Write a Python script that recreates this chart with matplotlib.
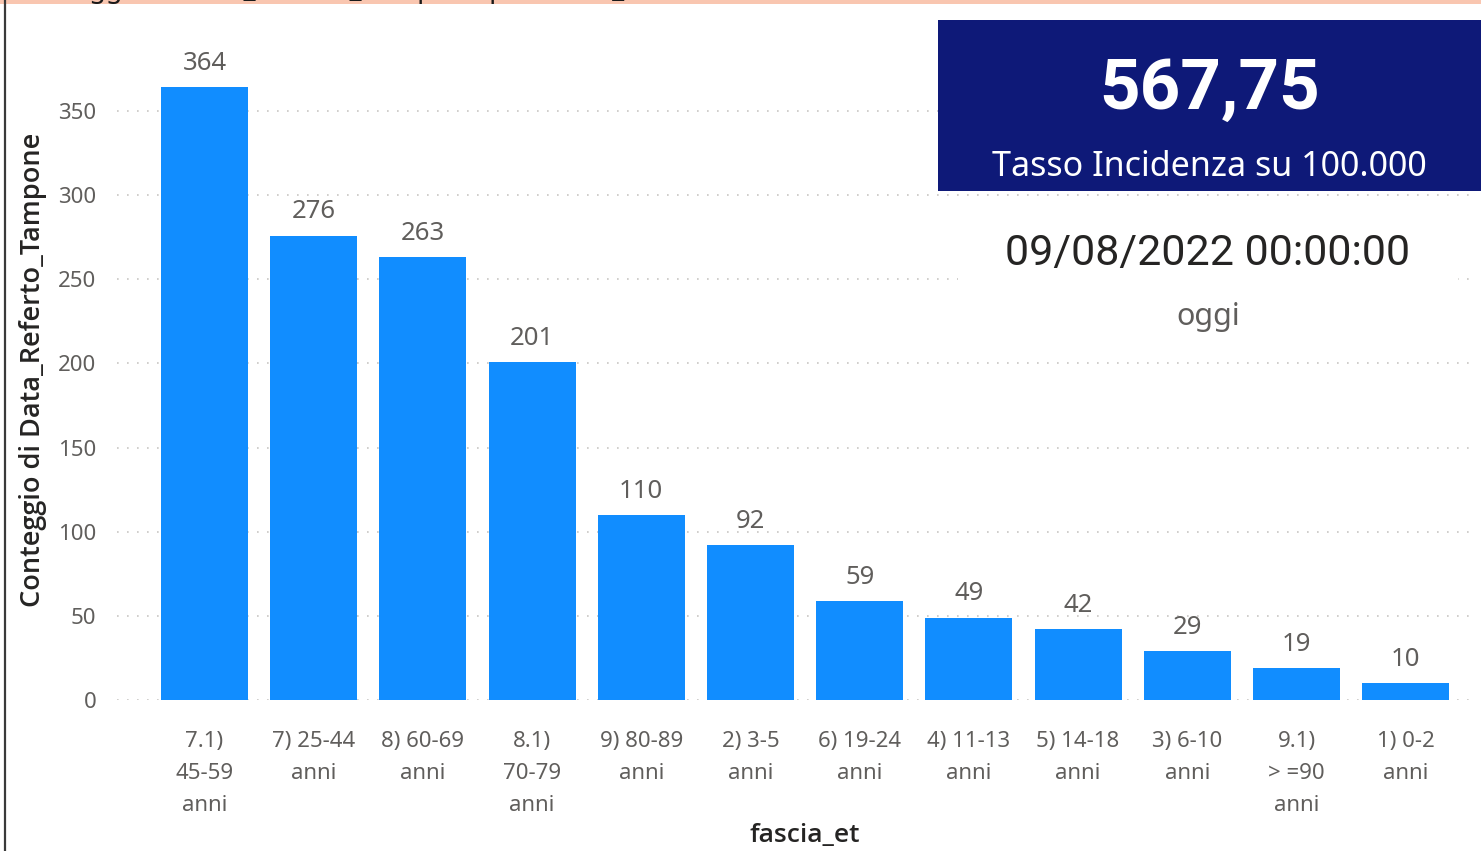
import matplotlib
matplotlib.use("Agg")
import matplotlib.pyplot as plt
from matplotlib.patches import Rectangle
from matplotlib.lines import Line2D

# ---- data ----
categories = ["7.1)\n45-59\nanni", "7) 25-44\nanni", "8) 60-69\nanni", "8.1)\n70-79\nanni",
              "9) 80-89\nanni", "2) 3-5\nanni", "6) 19-24\nanni", "4) 11-13\nanni",
              "5) 14-18\nanni", "3) 6-10\nanni", "9.1)\n> =90\nanni", "1) 0-2\nanni"]
values = [364, 276, 263, 201, 110, 92, 59, 49, 42, 29, 19, 10]
yticks = [0, 50, 100, 150, 200, 250, 300, 350]
card_value = "567,75"
card_label = "Tasso Incidenza su 100.000"
date_value = "09/08/2022 00:00:00"
date_label = "oggi"
title_text = "Conteggio di Data_Referto_Tampone per fascia_et"
ylabel_text = "Conteggio di Data_Referto_Tampone"
xlabel_text = "fascia_et"

W, H = 1481, 851
plt.rcParams['font.family'] = ['Noto Sans', 'DejaVu Sans']

fig = plt.figure(figsize=(W / 100, H / 100), dpi=100)
fig.patch.set_facecolor("white")

def fx(x):
    return x / W

def fy(y):
    return 1 - y / H

# axes in pixel coords
L, R, T, B = 117, 1476, 40, 700
ax = fig.add_axes([fx(L), fy(B), (R - L) / W, (B - T) / H])
ax.set_facecolor("none")

x = list(range(len(values)))
bars = ax.bar(x, values, width=0.797, color="#118DFF", zorder=3)
ax.set_xlim(-0.801, 11.644)
ax.set_ylim(0, 392.2)

ax.set_yticks(yticks)
ax.set_yticklabels([str(v) for v in yticks])
ax.set_xticks(x)
ax.set_xticklabels(categories, linespacing=1.7)
ax.tick_params(axis='y', length=0, pad=15, labelsize=16, labelcolor="#605E5C")
ax.tick_params(axis='x', length=0, pad=22, labelsize=16, labelcolor="#605E5C")
for s in ax.spines.values():
    s.set_visible(False)
ax.grid(axis='y', color="#C8C6C4", linestyle=(0, (1, 5)), linewidth=1.2, zorder=0)
ax.set_axisbelow(True)

for xi, v in zip(x, values):
    ax.annotate(str(v), (xi, v), xytext=(0, 8), textcoords="offset points",
                ha="center", va="bottom", fontsize=18.5, color="#605E5C", zorder=4)

semi = ['Open Sans', 'Noto Sans', 'DejaVu Sans']
ax.set_ylabel(ylabel_text, fontsize=19.5, color="#252423", fontweight=600, family=semi)
ax.yaxis.set_label_coords((33 - L) / (R - L), 0.5)
ax.yaxis.label.set_va("center")
ax.set_xlabel(xlabel_text, fontsize=19, color="#252423", fontweight=600, family=semi)
ax.xaxis.set_label_coords((805 - L) / (R - L), (B - 836) / (B - T))
ax.xaxis.label.set_va("center")

# ---- card overlay ----
fig.add_artist(Rectangle((fx(958), fy(345)), (1458 - 958) / W, (345 - 198) / H,
                         transform=fig.transFigure, facecolor="white", edgecolor="none", zorder=5))
fig.add_artist(Rectangle((fx(938), fy(191)), (1481 - 938) / W, (191 - 20) / H,
                         transform=fig.transFigure, facecolor="#0E1978", edgecolor="none", zorder=6))
narrow = ['Roboto', 'DejaVu Sans']
fig.text(fx(1210), fy(89), card_value, ha="center", va="center", fontsize=51,
         fontweight="bold", color="white", family=narrow, zorder=7)
fig.text(fx(1209), fy(167), card_label, ha="center", va="center", fontsize=24.5,
         color="white", zorder=7)
fig.text(fx(1208), fy(253), date_value, ha="center", va="center", fontsize=31,
         color="#252423", family=narrow, zorder=7)
fig.text(fx(1208), fy(317), date_label, ha="center", va="center", fontsize=22,
         color="#605E5C", zorder=7)

# ---- frame decorations ----
fig.add_artist(Rectangle((0, fy(3.5)), 1, 3.5 / H, transform=fig.transFigure,
                         facecolor="#F9C6B0", edgecolor="none", zorder=8))
fig.text(fx(14), fy(-3), title_text, ha="left", va="baseline", fontsize=19.5,
         fontweight="bold", color="#1a1a1a", zorder=9)
fig.add_artist(Line2D([fx(5), fx(5)], [0, 1], transform=fig.transFigure,
                      color="#3a3a3a", linewidth=1.6, zorder=9))

fig.savefig("out.png", dpi=100)
